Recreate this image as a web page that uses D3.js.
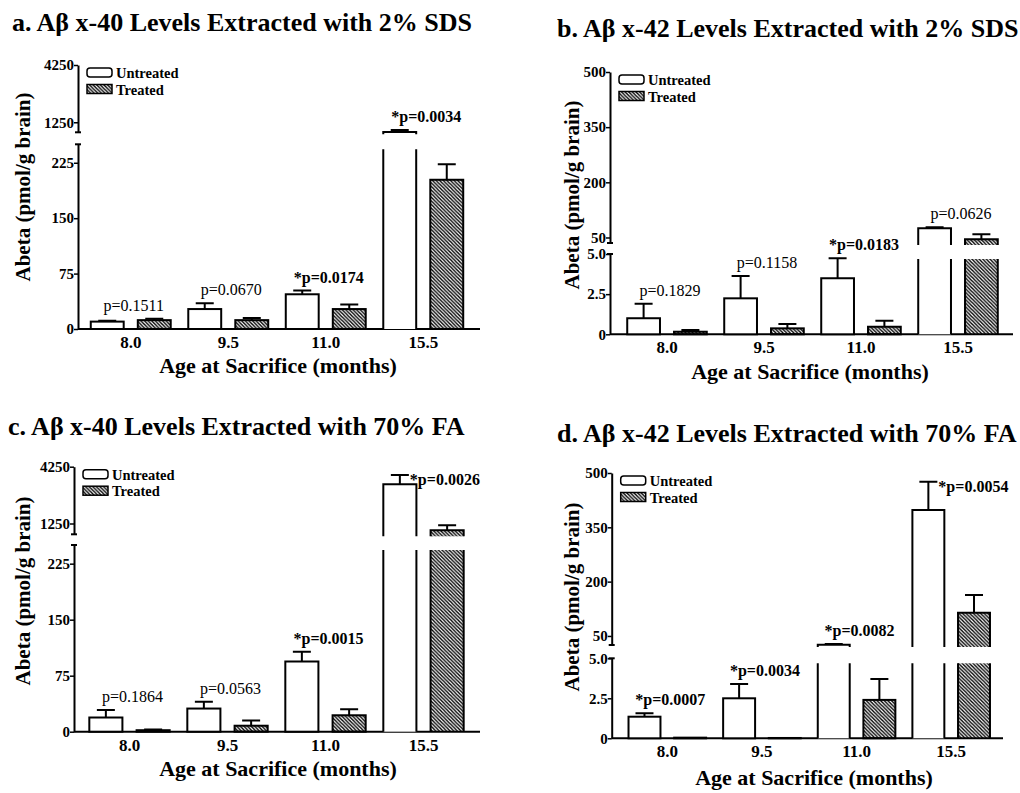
<!DOCTYPE html>
<html>
<head>
<meta charset="utf-8">
<script src="https://cdn.jsdelivr.net/npm/d3@7"></script>
<style>
  body { margin: 0; background: #fff; }
  svg { display: block; }
</style>
</head>
<body>
<script>
const ages = ["8.0", "9.5", "11.0", "15.5"];
const groups = ["Untreated", "Treated"];

// a. x-40, 2% SDS
const sds40Untreated = [10, 27, 47, 740];
const sds40UntreatedErr = [1, 8, 5, 110];
const sds40Treated = [12, 12, 27, 202];
const sds40TreatedErr = [2, 3, 6, 21];
const sds40P = ["p=0.1511", "p=0.0670", "*p=0.0174", "*p=0.0034"];

// b. x-42, 2% SDS
const sds42Untreated = [1.0, 2.24, 3.49, 75];
const sds42UntreatedErr = [0.9, 1.39, 1.24, 2.5];
const sds42Treated = [0.16, 0.37, 0.47, 45];
const sds42TreatedErr = [0.1, 0.27, 0.38, 14];
const sds42P = ["p=0.1829", "p=0.1158", "*p=0.0183", "p=0.0626"];

// c. x-40, 70% FA
const fa40Untreated = [19, 31, 94, 3320];
const fa40UntreatedErr = [10, 9, 13, 490];
const fa40Treated = [2, 8, 22, 890];
const fa40TreatedErr = [1, 7, 8, 265];
const fa40P = ["p=0.1864", "p=0.0563", "*p=0.0015", "*p=0.0026"];

// d. x-42, 70% FA
const fa42Untreated = [1.35, 2.5, 26, 398];
const fa42UntreatedErr = [0.21, 0.9, 1.5, 78];
const fa42Treated = [0.04, 0.02, 2.4, 114];
const fa42TreatedErr = [0, 0, 1.3, 49];
const fa42P = ["*p=0.0007", "*p=0.0034", "*p=0.0082", "*p=0.0054"];

// broken y axes: lower + upper segment
const x40Lower = [0, 250], x40LowerTicks = [0, 75, 150, 225];
const sds40Upper = [725, 4250], fa40Upper = [680, 4250], x40UpperTicks = [1250, 4250];
const x42Lower = [0, 5], x42LowerTicks = [0, 2.5, 5];
const sds42Upper = [35, 500], fa42Upper = [25, 500], x42UpperTicks = [50, 200, 350, 500];

const SERIF = "'Liberation Serif', 'Times New Roman', Times, serif";
const fmt40 = d3.format("d");
const fmt42 = d => d === 0 ? "0" : (d < 10 ? d3.format(".1f")(d) : d3.format("d")(d));

const panels = [
  { title: "a.  Aβ x-40 Levels Extracted with 2% SDS", titleX: 12, titleY: 31,
    untreated: sds40Untreated, untreatedErr: sds40UntreatedErr, treated: sds40Treated, treatedErr: sds40TreatedErr, p: sds40P,
    lower: x40Lower, lowerTicks: x40LowerTicks, upper: sds40Upper, upperTicks: x40UpperTicks, fmt: fmt40,
    axisX: 78, xRange: [82, 472], xEnd: 480, upperRange: [132.3, 65], lowerRange: [329, 144.3],
    ylabX: 23, ylabY: 187, xtitleX: 278, xtitleY: 373 },
  { title: "b.  Aβ x-42 Levels Extracted with 2% SDS", titleX: 557, titleY: 36.5,
    untreated: sds42Untreated, untreatedErr: sds42UntreatedErr, treated: sds42Treated, treatedErr: sds42TreatedErr, p: sds42P,
    lower: x42Lower, lowerTicks: x42LowerTicks, upper: sds42Upper, upperTicks: x42UpperTicks, fmt: fmt42,
    axisX: 610, xRange: [618.5, 1006.5], xEnd: 1013, upperRange: [243, 72], lowerRange: [334.3, 254],
    ylabX: 572, ylabY: 195, xtitleX: 810, xtitleY: 379 },
  { title: "c.  Aβ x-40 Levels Extracted with 70% FA", titleX: 8, titleY: 435,
    untreated: fa40Untreated, untreatedErr: fa40UntreatedErr, treated: fa40Treated, treatedErr: fa40TreatedErr, p: fa40P,
    lower: x40Lower, lowerTicks: x40LowerTicks, upper: fa40Upper, upperTicks: x40UpperTicks, fmt: fmt40,
    axisX: 74, xRange: [80.5, 472.5], xEnd: 480, upperRange: [534.3, 466.7], lowerRange: [731.7, 545],
    ylabX: 23, ylabY: 591, xtitleX: 278, xtitleY: 776 },
  { title: "d.  Aβ x-42 Levels Extracted with 70% FA", titleX: 557, titleY: 441.5,
    untreated: fa42Untreated, untreatedErr: fa42UntreatedErr, treated: fa42Treated, treatedErr: fa42TreatedErr, p: fa42P,
    lower: x42Lower, lowerTicks: x42LowerTicks, upper: fa42Upper, upperTicks: x42UpperTicks, fmt: fmt42,
    axisX: 611.7, xRange: [620, 998.5], xEnd: 1003, upperRange: [645, 473], lowerRange: [738.3, 658.3],
    ylabX: 572, ylabY: 597, xtitleX: 814, xtitleY: 785 }
];

const svg = d3.select("body").append("svg")
    .attr("width", 1020)
    .attr("height", 793)
    .attr("font-family", SERIF);

// diagonal hatch for treated bars
svg.append("defs").append("pattern")
    .attr("id", "hatch")
    .attr("patternUnits", "userSpaceOnUse")
    .attr("width", 3.6)
    .attr("height", 3.6)
  .append("path")
    .attr("d", "M-1,-1L4.6,4.6M2.6,-1L4.6,1M-1,2.6L1,4.6")
    .attr("stroke", "#000")
    .attr("stroke-width", 1.4);

const capHalf = 9;

function drawPanel(p) {
    const g = svg.append("g");
    const x = d3.scaleBand().domain(ages).range(p.xRange);
    const bw = x.bandwidth();
    const inner = d3.scaleBand().domain(groups).range([bw * 0.09, bw * 0.91]).paddingInner(0.3);
    const yLow = d3.scaleLinear().domain(p.lower).range(p.lowerRange);
    const yUp = d3.scaleLinear().domain(p.upper).range(p.upperRange);
    const y = v => v <= p.lower[1] ? yLow(v) : yUp(v);
    const zero = yLow(0);
    const lowClip = p.lowerRange[1] + 5;
    const upClip = p.upperRange[0] + 2;
    const plotTop = p.upperRange[1];

    // title
    g.append("text")
        .attr("x", p.titleX).attr("y", p.titleY)
        .attr("font-size", 26).attr("font-weight", "bold")
        .text(p.title);

    // y axis segments
    [[yLow, p.lowerTicks], [yUp, p.upperTicks]].forEach(([sc, ticks]) => {
        const ax = g.append("g")
            .attr("transform", `translate(${p.axisX},0)`)
            .call(d3.axisLeft(sc).tickValues(ticks).tickFormat(p.fmt).tickSize(4).tickSizeOuter(0));
        ax.attr("font-size", null).attr("font-family", null);
        ax.select(".domain").attr("stroke-width", 2);
        ax.selectAll(".tick line").attr("stroke-width", 1.5);
        ax.selectAll(".tick text")
            .attr("x", -4)
            .style("font-family", SERIF).style("font-size", "15px").style("font-weight", "bold")
            .attr("fill", "#000");
    });
    // break caps
    [p.upperRange[0], p.lowerRange[1]].forEach(cy => {
        g.append("line")
            .attr("x1", p.axisX - 3).attr("x2", p.axisX + 3)
            .attr("y1", cy).attr("y2", cy)
            .attr("stroke", "#000").attr("stroke-width", 2);
    });

    // x axis
    g.append("line")
        .attr("x1", p.axisX).attr("x2", p.xEnd)
        .attr("y1", zero).attr("y2", zero)
        .attr("stroke", "#000").attr("stroke-width", 2);
    g.selectAll(".xlab").data(ages).join("text")
        .attr("x", d => x(d) + bw / 2)
        .attr("y", zero + 19)
        .attr("text-anchor", "middle")
        .attr("font-size", 17).attr("font-weight", "bold")
        .text(d => d);

    // axis titles
    g.append("text")
        .attr("transform", `translate(${p.ylabX},${p.ylabY}) rotate(-90)`)
        .attr("text-anchor", "middle").attr("dy", "0.35em")
        .attr("font-size", 21).attr("font-weight", "bold")
        .text("Abeta (pmol/g brain)");
    g.append("text")
        .attr("x", p.xtitleX).attr("y", p.xtitleY)
        .attr("text-anchor", "middle")
        .attr("font-size", 22).attr("font-weight", "bold")
        .text("Age at Sacrifice (months)");

    const rows = ages.flatMap((age, i) => [
        { age, group: "Untreated", v: p.untreated[i], e: p.untreatedErr[i] },
        { age, group: "Treated", v: p.treated[i], e: p.treatedErr[i] }
    ]);

    rows.forEach(r => {
        const x0 = x(r.age) + inner(r.group);
        const x1 = x0 + inner.bandwidth();
        const fill = r.group === "Treated" ? "url(#hatch)" : "#fff";
        if (r.v <= p.lower[1]) {
            const top = yLow(r.v);
            g.append("rect")
                .attr("x", x0).attr("y", top)
                .attr("width", x1 - x0).attr("height", zero - top)
                .attr("fill", fill).attr("stroke", "#000").attr("stroke-width", 2);
        } else {
            // lower piece (open top)
            g.append("rect")
                .attr("x", x0).attr("y", lowClip)
                .attr("width", x1 - x0).attr("height", zero - lowClip)
                .attr("fill", fill);
            g.append("path")
                .attr("d", `M${x0},${zero}V${lowClip}M${x1},${zero}V${lowClip}`)
                .attr("fill", "none").attr("stroke", "#000").attr("stroke-width", 2);
            // upper piece (open bottom)
            const top = yUp(r.v);
            g.append("rect")
                .attr("x", x0).attr("y", top)
                .attr("width", x1 - x0).attr("height", upClip - top)
                .attr("fill", fill);
            g.append("path")
                .attr("d", `M${x0},${upClip}V${top}H${x1}V${upClip}`)
                .attr("fill", "none").attr("stroke", "#000").attr("stroke-width", 2);
        }
        if (r.e > 0) {
            const cx = (x0 + x1) / 2;
            const ey = y(r.v + r.e);
            g.append("path")
                .attr("d", `M${cx},${y(r.v)}V${ey}M${cx - capHalf},${ey}H${cx + capHalf}`)
                .attr("fill", "none").attr("stroke", "#000").attr("stroke-width", 2);
        }
    });

    // p-values
    ages.forEach((age, i) => {
        const groupTop = d3.min(rows.filter(r => r.age === age), r => y(r.v + r.e));
        const label = p.p[i];
        const t = g.append("text")
            .attr("font-size", 16)
            .attr("font-weight", label.startsWith("*") ? "bold" : "normal")
            .text(label);
        if (groupTop - 8 < plotTop + 12) {
            const ux = x(age) + inner("Untreated") + inner.bandwidth() / 2;
            t.attr("x", ux + capHalf + 1).attr("y", groupTop + 10).attr("text-anchor", "start");
        } else {
            t.attr("x", x(age) + bw / 2 + 3).attr("y", groupTop - 8).attr("text-anchor", "middle");
        }
    });

    // legend
    const lg = g.append("g").attr("transform", `translate(${p.axisX + 9},${plotTop + 3})`);
    groups.forEach((grp, i) => {
        lg.append("rect")
            .attr("x", 0).attr("y", i * 16.5)
            .attr("width", 25).attr("height", 9)
            .attr("rx", grp === "Untreated" ? 3 : 0)
            .attr("fill", grp === "Treated" ? "url(#hatch)" : "#fff")
            .attr("stroke", "#000").attr("stroke-width", 1.5);
        lg.append("text")
            .attr("x", 29).attr("y", i * 16.5 + 10)
            .attr("font-size", 14.5).attr("font-weight", "bold")
            .text(grp);
    });
}

panels.forEach(drawPanel);
</script>
</body>
</html>
